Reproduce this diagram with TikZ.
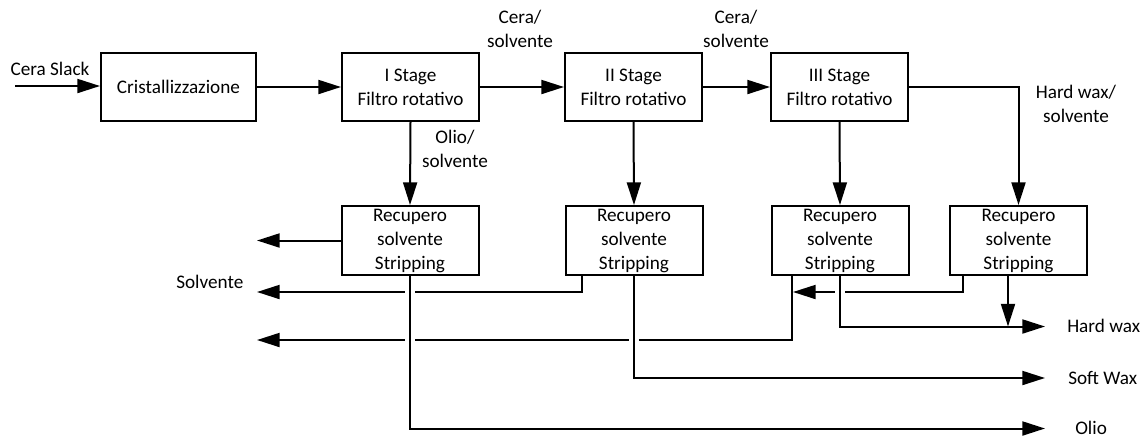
\documentclass[tikz,border=0pt]{standalone}
\usepackage{fontspec}
\setmainfont{Carlito}
\usetikzlibrary{arrows.meta}

\begin{document}
\begin{tikzpicture}[x=0.75pt,y=-0.75pt,
  every node/.style={font=\fontsize{14.4}{18}\selectfont},
  box/.style={draw, line width=1.5pt, minimum width=102.75pt, minimum height=51pt,
    inner sep=0pt, align=center},
  lbl/.style={align=center, inner sep=0pt},
  conn/.style={line width=1.5pt, -{Triangle[length=17pt,width=10.5pt]}},
  hop/.style={preaction={draw=white, line width=7.5pt, shorten <=3pt, -}}]
\useasboundingbox (0,0) rectangle (1143,437);

% process units
\node[box, minimum width=116.25pt] (cri) at (178.5,87) {Cristallizzazione};
\node[box] (st1) at (410.5,87) {I Stage\\Filtro rotativo};
\node[box] (st2) at (633.5,87) {II Stage\\Filtro rotativo};
\node[box] (st3) at (839.5,87) {III Stage\\Filtro rotativo};
\node[box, minimum height=51.75pt] (rc1) at (410,240.5) {Recupero\\solvente\\Stripping};
\node[box, minimum height=51.75pt] (rc2) at (634,240.5) {Recupero\\solvente\\Stripping};
\node[box, minimum height=51.75pt] (rc3) at (840,240.5) {Recupero\\solvente\\Stripping};
\node[box, minimum height=51.75pt] (rc4) at (1018.5,240.5) {Recupero\\solvente\\Stripping};

% helper x positions and free ends
\coordinate (in0) at (15,86);
\coordinate (xs) at (257,0);
\coordinate (x582) at (582,0);
\coordinate (x792) at (792,0);
\coordinate (x963) at (963,0);
\coordinate (x1008) at (1008,0);
\coordinate (ret2) at (257,292);
\coordinate (ret4) at (793,292);
\coordinate (ret3) at (257,340);
\coordinate (outH) at (1045,326.5);
\coordinate (outS) at (1045,378);
\coordinate (outO) at (1045,428.5);

% labels
\node[lbl] (lcs) at (50,69) {Cera Slack};
\node[lbl] (lc1) at (520,29) {Cera/\\solvente};
\node[lbl] (lc2) at (736,29) {Cera/\\solvente};
\node[lbl] (lhw) at (1076,104) {Hard wax/\\solvente};
\node[lbl] (los) at (455,148.5) {Olio/\\solvente};
\node[lbl, anchor=west] (lsol) at (176,282) {Solvente};
\node[lbl, anchor=west] (lhard) at (1067,326) {Hard wax};
\node[lbl, anchor=west] (lsoft) at (1068,378) {Soft Wax};
\node[lbl, anchor=base west] (lolio) at (1075,434) {Olio};

% main filtration train
\draw[conn] (in0) -- (cri.west |- in0);
\draw[conn] (cri.east) -- (st1.west);
\draw[conn] (st1.east) -- (st2.west);
\draw[conn] (st2.east) -- (st3.west);
\draw[conn] (st3.east) -| (rc4.north);
\draw[conn] (st1.south) -- (rc1.north);
\draw[conn] (st2.south) -- (rc2.north);
\draw[conn] (st3.south) -- (rc3.north);

% solvent returns
\draw[conn] (rc1.west) -- (rc1.west -| xs);
\draw[conn] (rc2.south -| x582) |- (ret2);
\draw[conn] (rc4.south -| x963) |- (ret4);
\draw[conn] (rc3.south -| x792) |- (ret3);

% product streams (crossing over the solvent lines)
\draw[conn, hop] (rc1.south) |- (outO);
\draw[conn, hop] (rc2.south) |- (outS);
\draw[conn, hop] (rc3.south) |- (outH);
\draw[conn] (rc4.south -| x1008) -- (x1008 |- outH);
\end{tikzpicture}
\end{document}
